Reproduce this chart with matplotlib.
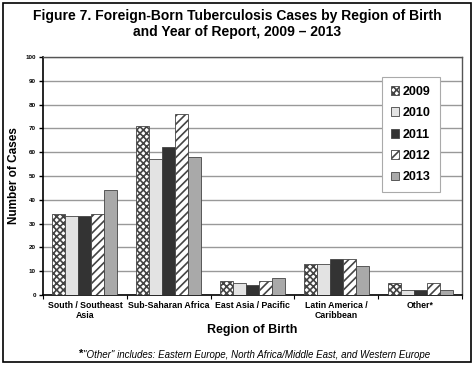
import matplotlib.pyplot as plt
import numpy as np
from matplotlib.patches import Rectangle

plt.rcParams['font.family'] = ['Liberation Sans', 'DejaVu Sans']
plt.rcParams['hatch.linewidth'] = 1.2

regions = ['South / Southeast\nAsia', 'Sub-Saharan Africa', 'East Asia / Pacific',
           'Latin America /\nCaribbean', 'Other*']
years = ['2009', '2010', '2011', '2012', '2013']
cases_2009 = [34, 71, 6, 13, 5]
cases_2010 = [33, 57, 5, 13, 2]
cases_2011 = [33, 62, 4, 15, 2]
cases_2012 = [34, 76, 6, 15, 5]
cases_2013 = [44, 58, 7, 12, 2]
series = [cases_2009, cases_2010, cases_2011, cases_2012, cases_2013]

# fill colour and hatch for each year
faces = ['white', '#e3e3e3', '#333333', 'white', '#a9a9a9']
hatches = ['xxxxx', None, None, '////', None]

fig = plt.figure(figsize=(4.75, 3.66), dpi=100)
ax = fig.add_axes([0.0905, 0.194, 0.882, 0.65])

x = np.arange(len(regions))
w = 0.155
for i, vals in enumerate(series):
    ax.bar(x + (i - 2) * w, vals, width=w, color=faces[i], hatch=hatches[i],
           edgecolor='#444444', linewidth=0.6, label=years[i], zorder=3)

ax.set_xlim(-0.5, len(regions) - 0.5)
ax.set_ylim(0, 100)
ax.set_yticks(range(0, 101, 10))
ax.yaxis.grid(True, color='#999999', linewidth=1.0, zorder=0)
ax.tick_params(axis='y', labelsize=4.5, length=3, width=1, pad=2)
for t in ax.get_yticklabels():
    t.set_fontweight('bold')

ax.set_xticks(x)
ax.set_xticklabels(regions, fontsize=6.3, fontweight='bold')
ax.set_xticks(np.arange(-0.5, len(regions), 1.0), minor=True)
ax.tick_params(axis='x', which='major', length=0, pad=4)
ax.tick_params(axis='x', which='minor', length=3, width=0.8)

for s in ['top', 'right']:
    ax.spines[s].set_color('#555555')
    ax.spines[s].set_linewidth(1.0)
for s in ['left', 'bottom']:
    ax.spines[s].set_color('black')
    ax.spines[s].set_linewidth(1.2)

ax.set_ylabel('Number of Cases', fontsize=8.5, fontweight='bold', labelpad=4)
ax.set_xlabel('Region of Birth', fontsize=9, fontweight='bold', labelpad=3)

leg = ax.legend(loc='upper right', bbox_to_anchor=(0.947, 0.916), borderaxespad=0,
                frameon=True, fancybox=False, edgecolor='#aaaaaa', framealpha=1,
                prop={'weight': 'bold', 'size': 9}, handlelength=0.7,
                handleheight=0.7, handletextpad=0.3, labelspacing=0.75,
                borderpad=0.7)
leg.get_frame().set_linewidth(0.8)
leg.set_zorder(5)

fig.text(0.5, 0.975, 'Figure 7. Foreign-Born Tuberculosis Cases by Region of Birth\nand Year of Report, 2009 \u2013 2013',
         ha='center', va='top', fontsize=10, fontweight='bold', linespacing=1.15)
fig.text(0.175, 0.032, '*', ha='right', va='center', fontsize=8, fontweight='bold')
fig.text(0.175, 0.030, '"Other" includes: Eastern Europe, North Africa/Middle East, and Western Europe',
         ha='left', va='center', fontsize=7, style='italic')

fig.patches.append(Rectangle((0.006, 0.011), 0.985, 0.981, transform=fig.transFigure,
                             fill=False, edgecolor='black', linewidth=1.2))

fig.savefig('out.png', dpi=100)
